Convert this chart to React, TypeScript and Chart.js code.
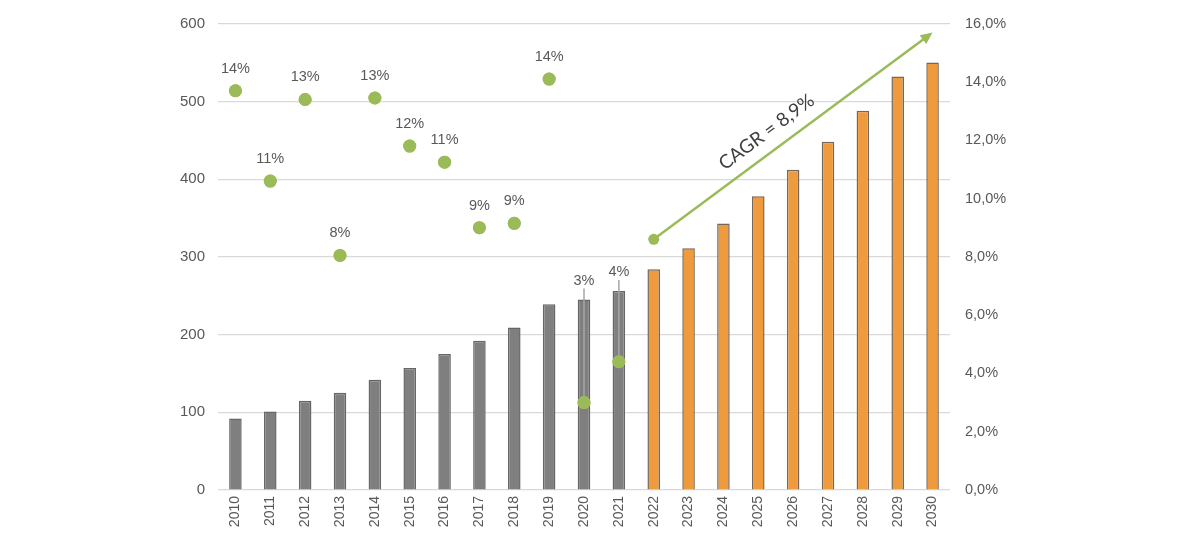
import React, { useEffect, useRef } from "react";
import { Chart, registerables } from "chart.js";

Chart.register(...registerables);

const years = [
  "2010", "2011", "2012", "2013", "2014", "2015", "2016", "2017", "2018", "2019", "2020",
  "2021", "2022", "2023", "2024", "2025", "2026", "2027", "2028", "2029", "2030",
];
const marketValues = [
  92, 101, 115, 125, 142, 157, 175, 192, 209, 239, 245, 256,
  284, 311, 343, 378, 412, 448, 488, 532, 550,
];
const growthRates = [13.7, 10.6, 13.4, 8.05, 13.45, 11.8, 11.25, 9.0, 9.15, 14.1, 3.0, 4.4];
const firstForecastYear = "2022";
const leftTicks = [0, 100, 200, 300, 400, 500, 600];
const rightTicks = [0, 2, 4, 6, 8, 10, 12, 14, 16];
const cagrLabel = "CAGR = 8,9%";
const arrowStart = { year: "2022", rate: 8.6 };
const arrowEnd = { year: "2030", rate: 15.7 };

const GRAY = "#7f7f7f";
const GRAY_BORDER = "#666666";
const ORANGE = "#f09a3e";
const ORANGE_BORDER = "#76675a";
const GREEN = "#9bbb59";
const TEXT = "#595959";

const fmtPct = (v: number) => v.toFixed(1).replace(".", ",") + "%";

const annotationPlugin = {
  id: "annotations",
  afterDatasetsDraw(chart: any) {
    const ctx = chart.ctx;
    const x = chart.scales.x;
    const y = chart.scales.y;
    const y1 = chart.scales.y1;
    ctx.save();
    // point labels
    ctx.font = "14.5px 'Liberation Sans', Arial, sans-serif";
    ctx.fillStyle = TEXT;
    ctx.textAlign = "center";
    ctx.textBaseline = "middle";
    growthRates.forEach((g, i) => {
      const px = x.getPixelForValue(i);
      const py = y1.getPixelForValue(g);
      const barTop = y.getPixelForValue(marketValues[i]);
      const label = Math.round(g) + "%";
      if (py > barTop - 10) {
        const ly = barTop - 19;
        ctx.strokeStyle = "#a6a6a6";
        ctx.lineWidth = 1.5;
        ctx.beginPath();
        ctx.moveTo(px, ly + 8);
        ctx.lineTo(px, py);
        ctx.stroke();
        ctx.fillText(label, px, ly);
      } else {
        ctx.fillText(label, px, py - 22);
      }
    });
    // redraw the points over leader lines
    ctx.fillStyle = GREEN;
    growthRates.forEach((g, i) => {
      const px = x.getPixelForValue(i);
      const py = y1.getPixelForValue(g);
      ctx.beginPath();
      ctx.arc(px, py, 6.5, 0, Math.PI * 2);
      ctx.fill();
    });
    // CAGR arrow
    const sx = x.getPixelForValue(years.indexOf(arrowStart.year));
    const sy = y1.getPixelForValue(arrowStart.rate);
    const ex = x.getPixelForValue(years.indexOf(arrowEnd.year));
    const ey = y1.getPixelForValue(arrowEnd.rate);
    const ang = Math.atan2(ey - sy, ex - sx);
    const len = Math.hypot(ex - sx, ey - sy);
    ctx.strokeStyle = GREEN;
    ctx.fillStyle = GREEN;
    ctx.lineWidth = 2.5;
    ctx.beginPath();
    ctx.moveTo(sx, sy);
    ctx.lineTo(ex - Math.cos(ang) * 8, ey - Math.sin(ang) * 8);
    ctx.stroke();
    ctx.beginPath();
    ctx.arc(sx, sy, 5.5, 0, Math.PI * 2);
    ctx.fill();
    ctx.beginPath();
    ctx.moveTo(ex, ey);
    ctx.lineTo(ex - Math.cos(ang) * 12 + Math.sin(ang) * 5.5, ey - Math.sin(ang) * 12 - Math.cos(ang) * 5.5);
    ctx.lineTo(ex - Math.cos(ang) * 12 - Math.sin(ang) * 5.5, ey - Math.sin(ang) * 12 + Math.cos(ang) * 5.5);
    ctx.closePath();
    ctx.fill();
    // CAGR text
    const t = 0.445;
    const cx = sx + Math.cos(ang) * len * t + Math.sin(ang) * 19;
    const cy = sy + Math.sin(ang) * len * t - Math.cos(ang) * 19;
    ctx.translate(cx, cy);
    ctx.rotate(ang);
    ctx.font = "19px Lato, 'Open Sans', sans-serif";
    ctx.fillStyle = "#3f3f3f";
    ctx.textAlign = "center";
    ctx.textBaseline = "middle";
    ctx.fillText(cagrLabel, 0, 0);
    ctx.restore();
  },
};

export default function App() {
  const canvasRef = useRef<HTMLCanvasElement | null>(null);

  useEffect(() => {
    if (!canvasRef.current) return;
    const forecastIdx = years.indexOf(firstForecastYear);
    const chart = new Chart(canvasRef.current, {
      data: {
        labels: years,
        datasets: [
          {
            type: "line",
            label: "Growth",
            data: growthRates,
            yAxisID: "y1",
            showLine: false,
            pointRadius: 6.5,
            pointHoverRadius: 6.5,
            pointBackgroundColor: GREEN,
            pointBorderWidth: 0,
            order: 0,
          } as any,
          {
            type: "bar",
            label: "Market",
            data: marketValues,
            yAxisID: "y",
            backgroundColor: years.map((_, i) => (i < forecastIdx ? GRAY : ORANGE)),
            borderColor: years.map((_, i) => (i < forecastIdx ? GRAY_BORDER : ORANGE_BORDER)),
            borderWidth: 1.5,
            categoryPercentage: 1,
            barPercentage: 0.36,
            order: 1,
          } as any,
        ],
      },
      options: {
        responsive: false,
        animation: false,
        layout: { padding: { top: 21, left: 0, right: 0, bottom: 0 } },
        plugins: { legend: { display: false }, tooltip: { enabled: false } },
        scales: {
          x: {
            grid: { display: false, drawTicks: false },
            border: { display: false },
            ticks: {
              color: TEXT,
              font: { family: "'Liberation Sans', Arial, sans-serif", size: 14 },
              minRotation: 90,
              maxRotation: 90,
              padding: 6,
              autoSkip: false,
            },
            afterFit: (s: any) => {
              s.height = 69;
            },
          },
          y: {
            position: "left",
            min: 0,
            max: 600,
            afterBuildTicks: (s: any) => {
              s.ticks = leftTicks.map((v) => ({ value: v }));
            },
            grid: { color: "#d9d9d9", lineWidth: 1.2, drawTicks: false },
            border: { display: false },
            ticks: {
              color: TEXT,
              font: { family: "'Liberation Sans', Arial, sans-serif", size: 15 },
              padding: 13,
            },
            afterFit: (s: any) => {
              s.width = 218;
            },
          },
          y1: {
            position: "right",
            min: 0,
            max: 16,
            afterBuildTicks: (s: any) => {
              s.ticks = rightTicks.map((v) => ({ value: v }));
            },
            grid: { display: false, drawTicks: false },
            border: { display: false },
            ticks: {
              color: TEXT,
              font: { family: "'Liberation Sans', Arial, sans-serif", size: 14.5 },
              padding: 15,
              callback: (v: any) => fmtPct(Number(v)),
            },
            afterFit: (s: any) => {
              s.width = 250;
            },
          },
        },
      },
      plugins: [annotationPlugin],
    });
    return () => chart.destroy();
  }, []);

  return (
    <div style={{ position: "fixed", left: 0, top: 0, width: 1200, height: 559, background: "#fff" }}>
      <canvas ref={canvasRef} width={1200} height={559} />
    </div>
  );
}
